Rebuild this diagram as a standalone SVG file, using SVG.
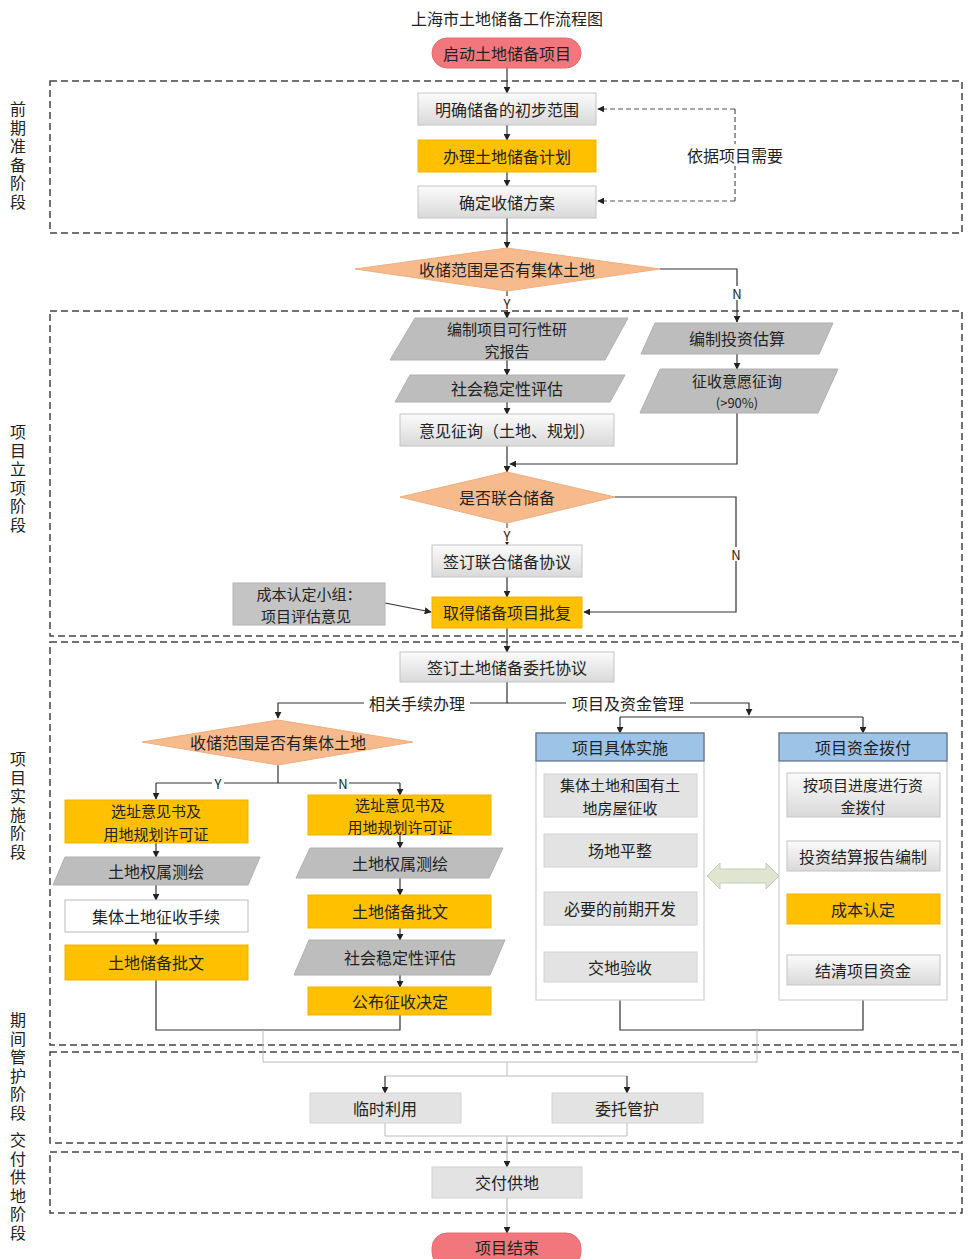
<svg xmlns="http://www.w3.org/2000/svg" width="974" height="1259" viewBox="0 0 974 1259">
<defs>
<linearGradient id="lg" x1="0" y1="0" x2="0" y2="1"><stop offset="0" stop-color="#fbfbfb"/><stop offset="1" stop-color="#d9d9d9"/></linearGradient>
<marker id="ar" viewBox="0 0 10 10" refX="9" refY="5" markerWidth="7" markerHeight="7" orient="auto-start-reverse" markerUnits="userSpaceOnUse"><path d="M0,0 L10,5 L0,10 z" fill="#222"/></marker>
</defs>
<style>
text{font-family:"Noto Sans CJK SC","Noto Sans",sans-serif;font-size:16px;fill:#222;text-anchor:middle;dominant-baseline:central}
.ml{font-size:15px}
.sec{fill:none;stroke:#444;stroke-width:1.5;stroke-dasharray:7,4}
.vl{writing-mode:vertical-rl;text-anchor:start;letter-spacing:2.5px;font-size:16px}
.gb{fill:url(#lg);stroke:#c4c4c4;stroke-width:1}
.yb{fill:#FFC000;stroke:#f0b400;stroke-width:1}
.pg{fill:#bdbdbd;stroke:#b0b0b0;stroke-width:1}
.dm{fill:#F7BA8C;stroke:#efae80;stroke-width:1}
.pill{fill:#F2777D;stroke:#e86a70;stroke-width:1}
.ib{fill:#e3e3e3;stroke:#d2d2d2;stroke-width:1}
.ct{fill:#fff;stroke:#cfcfcf;stroke-width:1.2}
.hd{fill:#9DC3E6;stroke:#5a6f86;stroke-width:1.2}
.ln{fill:none;stroke:#333;stroke-width:1.2}
.la{fill:none;stroke:#333;stroke-width:1.2;marker-end:url(#ar)}
.lg{fill:none;stroke:#bbb;stroke-width:1}
.dsh{fill:none;stroke:#555;stroke-width:1.2;stroke-dasharray:5,3}
.wb{fill:#fff}
</style>

<text x="507" y="18">上海市土地储备工作流程图</text>

<g id="sections">
<rect class="sec" x="50" y="81" width="912" height="152"/>
<rect class="sec" x="50" y="311" width="912" height="325"/>
<rect class="sec" x="50" y="642" width="912" height="403"/>
<rect class="sec" x="50" y="1052" width="912" height="91"/>
<rect class="sec" x="50" y="1152" width="912" height="61"/>
</g>

<g id="stage-labels">
<text class="vl" x="18" y="101">前期准备阶段</text>
<text class="vl" x="18" y="424">项目立项阶段</text>
<text class="vl" x="18" y="751">项目实施阶段</text>
<text class="vl" x="18" y="1012">期间管护阶段</text>
<text class="vl" x="18" y="1132">交付供地阶段</text>
</g>

<g id="connectors">
<path class="la" d="M507,68 V93"/>
<path class="la" d="M507,125 V140"/>
<path class="la" d="M507,172 V186"/>
<path class="la" d="M507,218 V248"/>
<path class="dsh" d="M735,109 V201"/>
<path class="dsh" d="M735,109 H598" marker-end="url(#ar)"/>
<path class="dsh" d="M735,201 H598" marker-end="url(#ar)"/>
<rect class="wb" x="680" y="144" width="110" height="22"/>
<text x="735" y="155">依据项目需要</text>

<path class="la" d="M507,291 V318"/>
<rect class="wb" x="501" y="296" width="12" height="14"/>
<text x="507" y="303" style="font-size:13px">Y</text>
<path class="la" d="M660,269 H737 V322"/>
<rect class="wb" x="731" y="286" width="12" height="14"/>
<text x="737" y="293" style="font-size:13px">N</text>

<path class="la" d="M507,360 V375"/>
<path class="la" d="M507,402 V414"/>
<path class="la" d="M737,354 V369"/>
<path class="la" d="M737,413 V464 H510"/>
<path class="la" d="M507,446 V472"/>
<path class="dsh" d="M507,523 V545" stroke-dasharray="3,3" marker-end="url(#ar)"/>
<rect class="wb" x="501" y="528" width="12" height="14"/>
<text x="507" y="535" style="font-size:13px">Y</text>
<path class="la" d="M615,497 H736 V612 H584"/>
<rect class="wb" x="730" y="547" width="12" height="14"/>
<text x="736" y="554" style="font-size:13px">N</text>
<path class="la" d="M507,577 V597"/>
<path class="la" d="M385,603 L431,612"/>
<path class="la" d="M507,628 V652"/>

<path class="la" d="M507,682 V703 H278 V718"/>
<path class="la" d="M507,703 H749 V715"/>
<rect class="wb" x="364" y="693" width="106" height="20"/>
<text x="417" y="703">相关手续办理</text>
<rect class="wb" x="566" y="693" width="124" height="20"/>
<text x="628" y="703">项目及资金管理</text>
<path class="ln" d="M620,717 H863"/>
<path class="la" d="M620,717 V733"/>
<path class="la" d="M863,717 V733"/>

<path class="ln" d="M278,765 V783 M156,783 H400"/>
<path class="la" d="M156,783 V799"/>
<path class="la" d="M400,783 V795"/>
<rect class="wb" x="212" y="776" width="12" height="14"/>
<text x="218" y="783" style="font-size:13px">Y</text>
<rect class="wb" x="337" y="776" width="12" height="14"/>
<text x="343" y="783" style="font-size:13px">N</text>

<path class="la" d="M156,843 V857"/>
<path class="la" d="M156,885 V900"/>
<path class="la" d="M156,932 V945"/>
<path class="la" d="M400,835 V848"/>
<path class="la" d="M400,878 V895"/>
<path class="la" d="M400,928 V940"/>
<path class="la" d="M400,975 V987"/>
<path class="ln" d="M156,980 V1030 H400 V1015"/>

<path class="la" d="M620,817 V834"/>
<path class="la" d="M620,867 V892"/>
<path class="la" d="M620,925 V952"/>
<path class="la" d="M863,817 V841"/>
<path class="la" d="M863,871 V894"/>
<path class="la" d="M863,924 V955"/>
<path class="ln" d="M620,1000 V1030 H863 V1000"/>

<path class="lg" d="M263,1030 V1062 H757 V1030 M507,1062 V1076 M385,1076 H627"/>
<path class="la" d="M385,1076 V1093"/>
<path class="la" d="M627,1076 V1093"/>
<path class="lg" d="M385,1123 V1136 H627 V1123"/>
<path class="la" d="M507,1136 V1167" style="stroke:#bbb"/>
<path class="la" d="M507,1198 V1233" style="stroke:#bbb"/>

<polygon points="707,876 720,863 720,869 766,869 766,863 779,876 766,889 766,883 720,883 720,889" fill="#dfe5d0" stroke="#c6ceb6" stroke-width="1"/>
</g>

<g id="n-start"><rect class="pill" x="432" y="38" width="149" height="30" rx="15"/><text x="507" y="53">启动土地储备项目</text></g>
<g id="n-fanwei"><rect class="gb" x="418" y="93" width="178" height="32"/><text x="507" y="109">明确储备的初步范围</text></g>
<g id="n-jihua"><rect class="yb" x="418" y="140" width="178" height="32"/><text x="507" y="156">办理土地储备计划</text></g>
<g id="n-fangan"><rect class="gb" x="418" y="186" width="178" height="32"/><text x="507" y="202">确定收储方案</text></g>
<g id="n-d1"><polygon class="dm" points="355,269 507,248 660,269 507,291"/><text x="507" y="269">收储范围是否有集体土地</text></g>

<g id="n-kexing"><polygon class="pg" points="415,318 628,318 605,360 390,360"/><text class="ml" x="507" y="328">编制项目可行性研<tspan x="507" dy="22">究报告</tspan></text></g>
<g id="n-wending1"><polygon class="pg" points="410,375 625,375 610,402 395,402"/><text x="507" y="388">社会稳定性评估</text></g>
<g id="n-zixun"><rect class="gb" x="400" y="414" width="214" height="32"/><text x="507" y="430">意见征询（土地、规划）</text></g>
<g id="n-guji"><polygon class="pg" points="655,323 833,323 819,354 641,354"/><text x="737" y="338">编制投资估算</text></g>
<g id="n-yiyuan"><polygon class="pg" points="660,369 838,369 818,413 640,413"/><text class="ml" x="737" y="380">征收意愿征询<tspan x="737" dy="22" style="font-size:13px">(&gt;90%)</tspan></text></g>
<g id="n-d2"><polygon class="dm" points="400,497 507,472 615,497 507,523"/><text x="507" y="497">是否联合储备</text></g>
<g id="n-lianhe"><rect class="gb" x="432" y="545" width="150" height="32"/><text x="507" y="561">签订联合储备协议</text></g>
<g id="n-chengben"><rect x="233" y="583" width="152" height="42" fill="#c4c4c4" stroke="#b4b4b4"/><text class="ml" x="309" y="593">成本认定小组：<tspan x="306" dy="22">项目评估意见</tspan></text></g>
<g id="n-pifu"><rect class="yb" x="432" y="597" width="150" height="31"/><text x="507" y="612">取得储备项目批复</text></g>

<g id="n-weituo"><rect class="gb" x="400" y="652" width="214" height="30"/><text x="507" y="667">签订土地储备委托协议</text></g>
<g id="n-d3"><polygon class="dm" points="142,742 278,720 413,742 278,765"/><text x="278" y="742">收储范围是否有集体土地</text></g>
<g id="n-xuanzhi1"><rect class="yb" x="65" y="800" width="183" height="43"/><text class="ml" x="156" y="810.5">选址意见书及<tspan x="156" dy="22">用地规划许可证</tspan></text></g>
<g id="n-cehui1"><polygon class="pg" points="65,857 260,857 248,885 53,885"/><text x="156" y="871">土地权属测绘</text></g>
<g id="n-jiti"><rect x="65" y="900" width="183" height="32" fill="#fff" stroke="#bbb"/><text x="156" y="916">集体土地征收手续</text></g>
<g id="n-piwen1"><rect class="yb" x="65" y="945" width="183" height="35"/><text x="156" y="962">土地储备批文</text></g>
<g id="n-xuanzhi2"><rect class="yb" x="308" y="795" width="183" height="40"/><text class="ml" x="400" y="804">选址意见书及<tspan x="400" dy="22">用地规划许可证</tspan></text></g>
<g id="n-cehui2"><polygon class="pg" points="310,848 503,848 489,878 296,878"/><text x="400" y="863">土地权属测绘</text></g>
<g id="n-piwen2"><rect class="yb" x="308" y="895" width="183" height="33"/><text x="400" y="911">土地储备批文</text></g>
<g id="n-wending2"><polygon class="pg" points="309,940 505,940 490,975 294,975"/><text x="400" y="957">社会稳定性评估</text></g>
<g id="n-gongbu"><rect class="yb" x="308" y="987" width="183" height="28"/><text x="400" y="1001">公布征收决定</text></g>

<g id="n-shishi">
<rect class="ct" x="536" y="733" width="168" height="267"/>
<rect class="hd" x="536" y="733" width="168" height="28"/><text x="620" y="747">项目具体实施</text>
</g>
<g id="n-zhengshou"><rect class="ib" x="544" y="774" width="153" height="43"/><text class="ml" x="620" y="784.5">集体土地和国有土<tspan x="620" dy="22">地房屋征收</tspan></text></g>
<g id="n-pingzheng"><rect class="ib" x="544" y="834" width="153" height="33"/><text x="620" y="850">场地平整</text></g>
<g id="n-kaifa"><rect class="ib" x="544" y="892" width="153" height="33"/><text x="620" y="908">必要的前期开发</text></g>
<g id="n-yanshou"><rect class="ib" x="544" y="952" width="153" height="30"/><text x="620" y="967">交地验收</text></g>

<g id="n-bofu">
<rect class="ct" x="779" y="733" width="168" height="267"/>
<rect class="hd" x="779" y="733" width="168" height="28"/><text x="863" y="747">项目资金拨付</text>
</g>
<g id="n-jindu"><rect class="gb" x="787" y="773" width="153" height="44"/><text class="ml" x="863" y="784">按项目进度进行资<tspan x="863" dy="22">金拨付</tspan></text></g>
<g id="n-jiesuan"><rect class="gb" x="787" y="841" width="153" height="30"/><text x="863" y="856">投资结算报告编制</text></g>
<g id="n-rending"><rect class="yb" x="787" y="894" width="153" height="30"/><text x="863" y="909">成本认定</text></g>
<g id="n-jieqing"><rect class="gb" x="787" y="955" width="153" height="30"/><text x="863" y="970">结清项目资金</text></g>

<g id="n-linshi"><rect class="ib" x="310" y="1093" width="151" height="30"/><text x="385" y="1108">临时利用</text></g>
<g id="n-guanhu"><rect class="ib" x="552" y="1093" width="151" height="30"/><text x="627" y="1108">委托管护</text></g>
<g id="n-jiaofu"><rect class="ib" x="432" y="1167" width="150" height="31"/><text x="507" y="1182">交付供地</text></g>
<g id="n-end"><rect class="pill" x="432" y="1233" width="149" height="34" rx="15"/><text x="507" y="1247">项目结束</text></g>
</svg>
